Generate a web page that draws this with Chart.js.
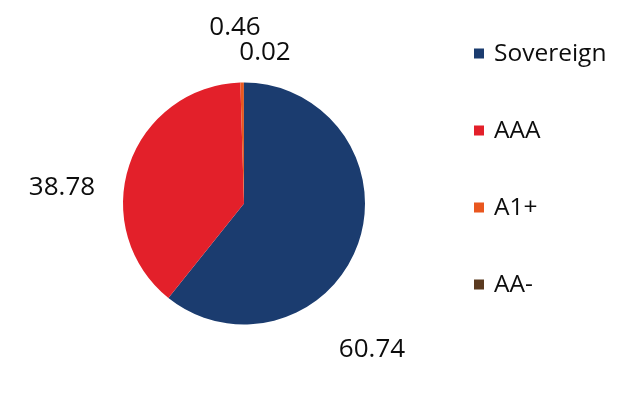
<!DOCTYPE html>
<html>
<head>
<meta charset="utf-8">
<script src="https://cdn.jsdelivr.net/npm/chart.js@4.4.0/dist/chart.umd.min.js"></script>
<style>
  html, body { margin:0; padding:0; background:#fff; }
  #wrap { position:relative; width:643px; height:397px; }
</style>
</head>
<body>
<div id="wrap"><canvas id="pie" width="643" height="397"></canvas></div>
<script>
// data
const categories = ['Sovereign', 'AAA', 'A1+', 'AA-'];
const shares = [60.74, 38.78, 0.46, 0.02];
const colors = ['#1b3c6f', '#e3202a', '#e9571f', '#5b3a1f'];

// label offsets from pie centre (Excel "best fit" placement)
const labelOffsets = [[128, 146], [-182, -16], [-9, -176], [21, -151]];
const FONT = '"Open Sans", "Noto Sans", sans-serif';

const labelsPlugin = {
  id: 'labels',
  afterDraw(chart){
    const ctx = chart.ctx;
    const arc0 = chart.getDatasetMeta(0).data[0];
    const cx = arc0.x, cy = arc0.y;
    ctx.save();
    ctx.fillStyle = '#0d0d0d';
    ctx.textAlign = 'center';
    ctx.textBaseline = 'middle';
    ctx.font = '26px ' + FONT;
    shares.forEach((v, i) => {
      const [dx, dy] = labelOffsets[i];
      ctx.fillText(v.toFixed(2), cx + dx, cy + dy);
    });

    // legend
    ctx.textAlign = 'left';
    ctx.font = '24.5px ' + FONT;
    categories.forEach((c, i) => {
      const y = 53.5 + i * 77;
      ctx.fillStyle = colors[i];
      ctx.fillRect(474, y - 5, 10, 10);
      ctx.fillStyle = '#0d0d0d';
      ctx.fillText(c, 494, y + 1);
    });
    ctx.restore();
  }
};

new Chart(document.getElementById('pie'), {
  type: 'pie',
  data: {
    labels: categories,
    datasets: [{ data: shares, backgroundColor: colors, borderWidth: 0 }]
  },
  options: {
    responsive: false,
    animation: false,
    layout: { padding: { left: 123, right: 278, top: 82, bottom: 72 } },
    plugins: { legend: { display: false }, tooltip: { enabled: false } }
  },
  plugins: [labelsPlugin]
});
</script>
</body>
</html>
